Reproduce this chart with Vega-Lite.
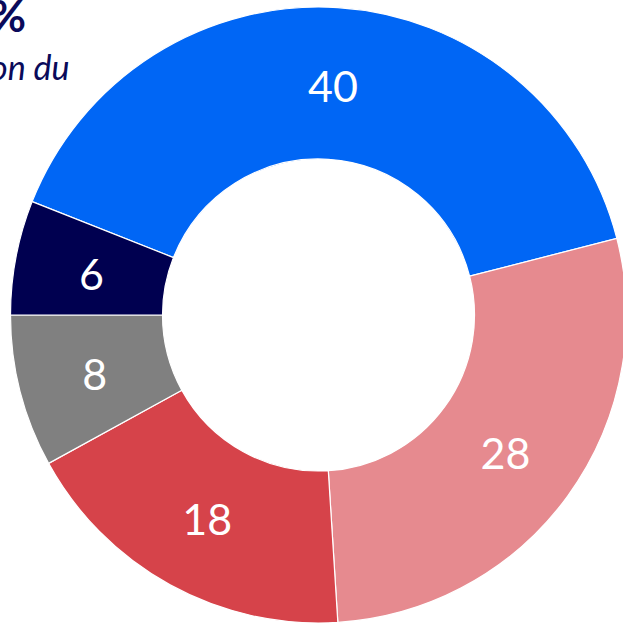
{
  "$schema": "https://vega.github.io/schema/vega-lite/v6.json",
  "width": 609,
  "height": 616,
  "autosize": {"type": "none"},
  "padding": {"left": 14, "top": 7, "right": 0, "bottom": 1},
  "background": "white",
  "title": {
    "text": "%",
    "subtitle": "on du",
    "anchor": "start",
    "frame": "group",
    "orient": "top",
    "font": "Lato",
    "fontSize": 44,
    "fontWeight": "bold",
    "color": "#0A0A5A",
    "subtitleFont": "Lato",
    "subtitleFontSize": 34,
    "subtitleFontStyle": "italic",
    "subtitleColor": "#0A0A5A",
    "subtitlePadding": 12,
    "dx": -24,
    "dy": 0,
    "offset": -82
  },
  "data": {
    "values": [
      {"label": "A", "value": 40, "order": 1},
      {"label": "B", "value": 28, "order": 2},
      {"label": "C", "value": 18, "order": 3},
      {"label": "D", "value": 8, "order": 4},
      {"label": "E", "value": 6, "order": 5}
    ]
  },
  "encoding": {
    "theta": {"field": "value", "type": "quantitative", "stack": true, "scale": {"range": [-1.1938, 5.0894]}},
    "order": {"field": "order", "type": "quantitative"}
  },
  "layer": [
    {
      "mark": {"type": "arc", "outerRadius": 308, "innerRadius": 156, "stroke": "white", "strokeWidth": 1.2},
      "encoding": {
        "color": {
          "field": "label", "type": "nominal", "legend": null,
          "scale": {"domain": ["A", "B", "C", "D", "E"], "range": ["#0066F5", "#E68A8F", "#D6434A", "#808080", "#000050"]}
        }
      }
    },
    {
      "mark": {"type": "text", "radius": 231, "dy": 5, "fontSize": 43, "font": "Lato", "color": "white"},
      "encoding": {"text": {"field": "value", "type": "quantitative"}}
    }
  ],
  "config": {"view": {"stroke": null}}
}
